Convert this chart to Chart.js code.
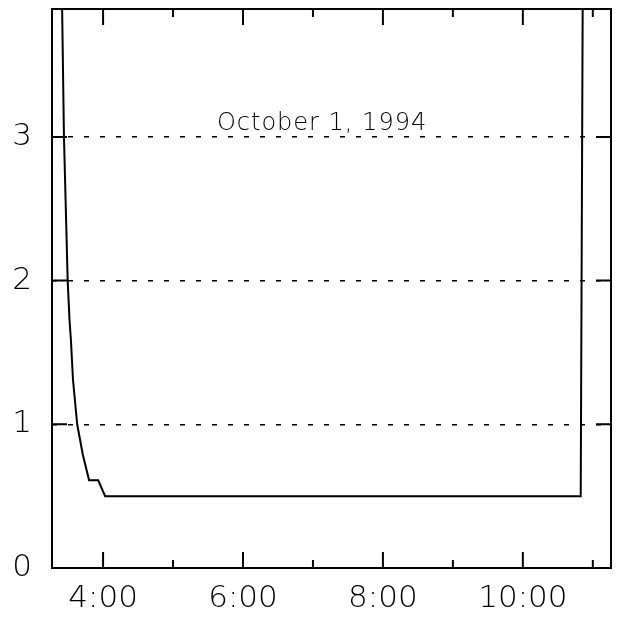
<!DOCTYPE html>
<html>
<head>
<meta charset="utf-8">
<script src="https://cdn.jsdelivr.net/npm/chart.js@4.4.1/dist/chart.umd.min.js"></script>
<style>
  html, body { margin: 0; padding: 0; background: #fff; }
  #wrap { width: 619px; height: 622px; position: relative; }
</style>
</head>
<body>
<div id="wrap"><canvas id="plot"></canvas></div>
<script>
  // time of day in decimal hours
  const hours = [3.413, 3.441, 3.494, 3.52, 3.54, 3.57, 3.63, 3.71, 3.80, 3.93, 4.03, 10.827, 10.856];
  const values = [3.95, 3.0, 2.0, 1.73, 1.59, 1.31, 1.0, 0.79, 0.61, 0.61, 0.50, 0.50, 4.0];

  const xLabelHours = [4, 6, 8, 10];
  const xTickHours = [4, 5, 6, 7, 8, 9, 10, 11];
  const yTickValues = [0, 1, 2, 3];
  const titleText = 'October 1, 1994';

  const xMin = 3.27, xMax = 11.26;
  const yMin = 0, yMax = 3.89;

  const labelFont = { family: 'DejaVu Sans', size: 31, weight: 200 };

  const framePlugin = {
    id: 'frame',
    afterDraw(chart) {
      const { ctx, chartArea: a, scales: { x, y } } = chart;
      ctx.save();
      ctx.setLineDash([]);
      ctx.strokeStyle = '#000';
      ctx.lineWidth = 2;
      ctx.strokeRect(a.left, a.top, a.right - a.left, a.bottom - a.top);

      ctx.beginPath();
      xTickHours.forEach((h) => {
        const px = x.getPixelForValue(h);
        const len = h % 2 === 0 ? 16 : 8;
        ctx.moveTo(px, a.bottom);
        ctx.lineTo(px, a.bottom - len);
        ctx.moveTo(px, a.top);
        ctx.lineTo(px, a.top + len);
      });
      yTickValues.forEach((v) => {
        const py = y.getPixelForValue(v);
        ctx.moveTo(a.left, py);
        ctx.lineTo(a.left + 15, py);
        ctx.moveTo(a.right, py);
        ctx.lineTo(a.right - 15, py);
      });
      ctx.stroke();

      ctx.fillStyle = '#000';
      ctx.font = '200 24px "DejaVu Sans"';
      ctx.letterSpacing = '1px';
      ctx.textAlign = 'center';
      ctx.textBaseline = 'middle';
      ctx.fillText(titleText, x.getPixelForValue(7.13), y.getPixelForValue(3.09));
      ctx.restore();
    }
  };

  new Chart(document.getElementById('plot').getContext('2d'), {
    type: 'line',
    data: {
      datasets: [{
        data: hours.map((h, i) => ({ x: h, y: values[i] })),
        borderColor: '#000',
        borderWidth: 2,
        pointRadius: 0,
        tension: 0,
        fill: false
      }]
    },
    options: {
      responsive: true,
      maintainAspectRatio: false,
      animation: false,
      devicePixelRatio: 1,
      layout: { padding: { left: 0, right: 8, top: 9, bottom: 0 } },
      plugins: { legend: { display: false }, tooltip: { enabled: false } },
      scales: {
        x: {
          type: 'linear',
          min: xMin,
          max: xMax,
          afterBuildTicks: (scale) => { scale.ticks = xLabelHours.map((v) => ({ value: v })); },
          afterFit: (scale) => {
            scale.height = 54;
            scale.paddingLeft = 0;
            scale.paddingRight = 0;
          },
          grid: { display: false, drawTicks: false },
          border: { display: false },
          ticks: {
            color: '#000',
            font: labelFont,
            padding: 12,
            maxRotation: 0,
            autoSkip: false,
            callback: (v) => `${v}:00`
          }
        },
        y: {
          min: yMin,
          max: yMax,
          afterBuildTicks: (scale) => { scale.ticks = yTickValues.map((v) => ({ value: v })); },
          afterFit: (scale) => {
            scale.width = 52;
            scale.paddingTop = 0;
            scale.paddingBottom = 0;
          },
          grid: {
            drawTicks: false,
            color: (c) => (c.tick && c.tick.value === 0 ? 'rgba(0,0,0,0)' : '#000'),
            lineWidth: 1.5
          },
          border: { display: false, dash: [5, 11] },
          ticks: {
            color: '#000',
            font: labelFont,
            padding: 20,
            autoSkip: false,
            callback: (v) => `${v}`
          }
        }
      }
    },
    plugins: [framePlugin]
  });
</script>
</body>
</html>
